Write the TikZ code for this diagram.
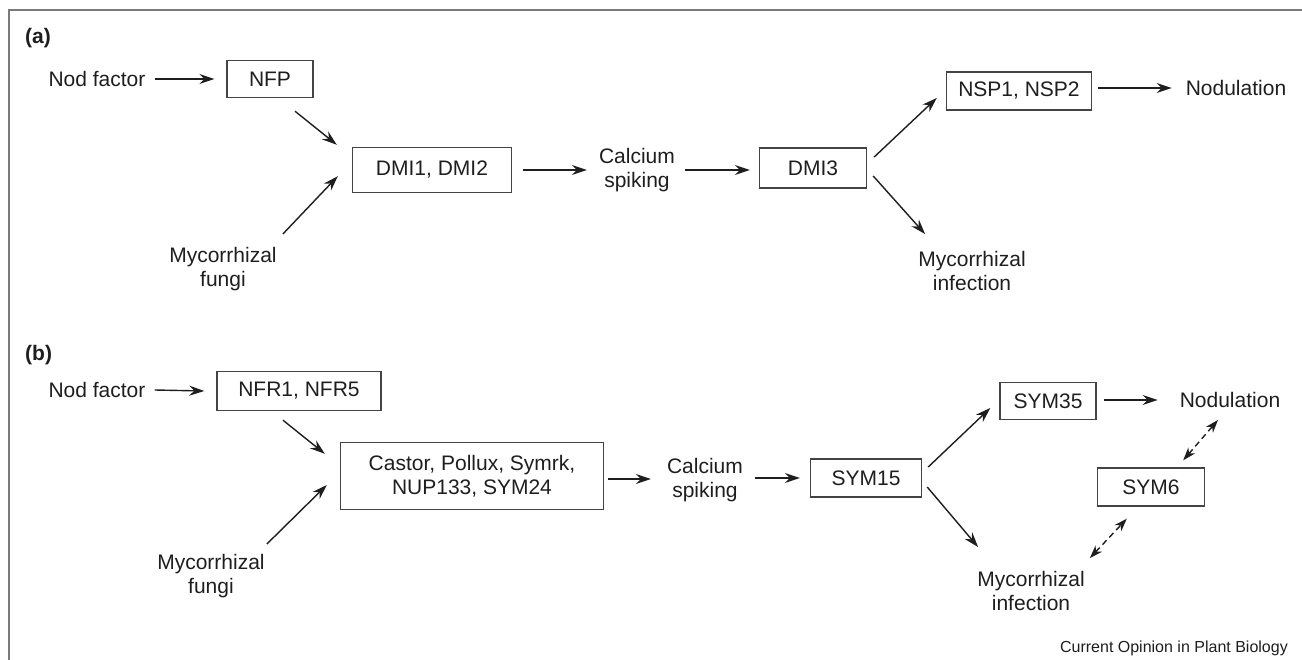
\documentclass[tikz,border=0pt]{standalone}
\usepackage{fontspec}
\setmainfont{Liberation Sans}
\usepackage{xcolor}
\usepackage{tikz}
\usetikzlibrary{arrows.meta,calc}

\definecolor{ink}{HTML}{1E1E1E}
\definecolor{boxline}{HTML}{444444}
\definecolor{framegray}{HTML}{7A7A7A}

\begin{document}
\begin{tikzpicture}[x=1pt,y=-1pt,font=\fontsize{21}{24}\selectfont]
      \tikzstyle{gene}=[draw=boxline, line width=1.4pt, minimum height=38pt, inner sep=0pt, text=ink]
      \tikzstyle{txt}=[align=center, inner sep=0pt, text=ink]
      \tikzstyle{panel}=[font=\fontsize{21}{24}\selectfont\bfseries, anchor=west, inner sep=0pt, text=ink]
      \tikzstyle{arr}=[draw=ink, line width=1.4pt, -{Stealth[length=15pt,width=10pt,inset=5pt]}]
      \tikzstyle{darr}=[arr, {Stealth[length=13pt,width=9pt,inset=4pt]}-{Stealth[length=13pt,width=9pt,inset=4pt]}, dash pattern=on 6pt off 4pt]

      \useasboundingbox (0,0) rectangle (1302,660);
      \draw[framegray, line width=2pt] (9,660) -- (9,10) -- (1302,10);

      % (a) Medicago
      \node[panel] (labA) at (25,38) {(a)};
      \node[txt] (nodfacA) at (97,79) {Nod factor};
      \node[gene, minimum width=86pt, minimum height=37pt] (nfp) at (270,79) {NFP};
      \node[gene, minimum width=159pt, minimum height=45pt] (dmi12) at (432,170) {DMI1, DMI2};
      \node[txt] (mycfunA) at (223,269) {Mycorrhizal\\fungi};
      \node[txt] (calA) at (637,170) {Calcium\\spiking};
      \node[gene, minimum width=107pt, minimum height=40pt] (dmi3) at (813,168) {DMI3};
      \node[gene, minimum width=145pt] (nsp) at (1019,91) {NSP1, NSP2};
      \node[txt] (nodA) at (1236,88) {Nodulation};
      \node[txt] (mycinfA) at (972,271) {Mycorrhizal\\infection};

      \draw[arr] ($(nodfacA.east)+(9,0)$) -- ($(nfp.west)+(-12,0)$);
      \draw[arr] ($(nfp.south)+(25,13)$) -- ($(dmi12.north west)+(-15,-2)$);
      \draw[arr] ($(mycfunA.north east)+(6,-13)$) -- ($(dmi12.south west)+(-14,-17)$);
      \draw[arr] ($(dmi12.east)+(11,0)$) -- ($(calA.west)+(-12,0)$);
      \draw[arr] ($(calA.east)+(10,0)$) -- ($(dmi3.west)+(-9,2)$);
      \draw[arr] ($(dmi3.east)+(7,-11)$) -- ($(nsp.west)+(-9,7)$);
      \draw[arr] ($(nsp.east)+(6,-3)$) -- ($(nodA.west)+(-14,0)$);
      \draw[arr] ($(dmi3.east)+(6,8)$) -- ($(mycinfA.north west)+(7,-17)$);

      % (b) Lotus
      \node[panel] (labB) at (25,355) {(b)};
      \node[txt] (nodfacB) at (97,390) {Nod factor};
      \node[gene, minimum width=164pt, minimum height=39pt] (nfr) at (299,391) {NFR1, NFR5};
      \node[gene, minimum width=263pt, minimum height=67pt, align=center] (castor) at (472,476) {Castor, Pollux, Symrk,\\NUP133, SYM24};
      \node[txt] (mycfunB) at (211,576) {Mycorrhizal\\fungi};
      \node[txt] (calB) at (705,480) {Calcium\\spiking};
      \node[gene, minimum width=111pt, minimum height=38pt] (sym15) at (866,478) {SYM15};
      \node[gene, minimum width=96pt, minimum height=37pt] (sym35) at (1048,401) {SYM35};
      \node[txt] (nodB) at (1230,400) {Nodulation};
      \node[gene, minimum width=107pt, minimum height=38pt] (sym6) at (1151,487) {SYM6};
      \node[txt] (mycinfB) at (1031,591) {Mycorrhizal\\infection};

      \draw[arr] ($(nodfacB.east)+(9,0)$) -- ($(nfr.west)+(-12,0)$);
      \draw[arr] ($(nfr.south)+(-16,9)$) -- ($(castor.north west)+(-15,12)$);
      \draw[arr] ($(mycfunB.north east)+(2,-10)$) -- ($(castor.west)+(-13,9)$);
      \draw[arr] ($(castor.east)+(4,3)$) -- ($(calB.west)+(-16,-1)$);
      \draw[arr] ($(calB.east)+(12,-2)$) -- ($(sym15.west)+(-10,0)$);
      \draw[arr] ($(sym15.east)+(6,-11)$) -- ($(sym35.west)+(-9,7)$);
      \draw[arr] ($(sym15.east)+(5,9)$) -- ($(mycinfB.north west)+(1,-24)$);
      \draw[arr] ($(sym35.east)+(7,-1)$) -- ($(nodB.west)+(-22,0)$);
      \draw[darr] ($(sym6.north east)+(-22,-7)$) -- ($(nodB.south)+(-12,12)$);
      \draw[darr] ($(mycinfB.north east)+(5,-13)$) -- ($(sym6.south west)+(30,12)$);

      \node[txt, font=\fontsize{16}{18}\selectfont, anchor=east] (credit) at (1288,648) {Current Opinion in Plant Biology};
    \end{tikzpicture}
\end{document}
